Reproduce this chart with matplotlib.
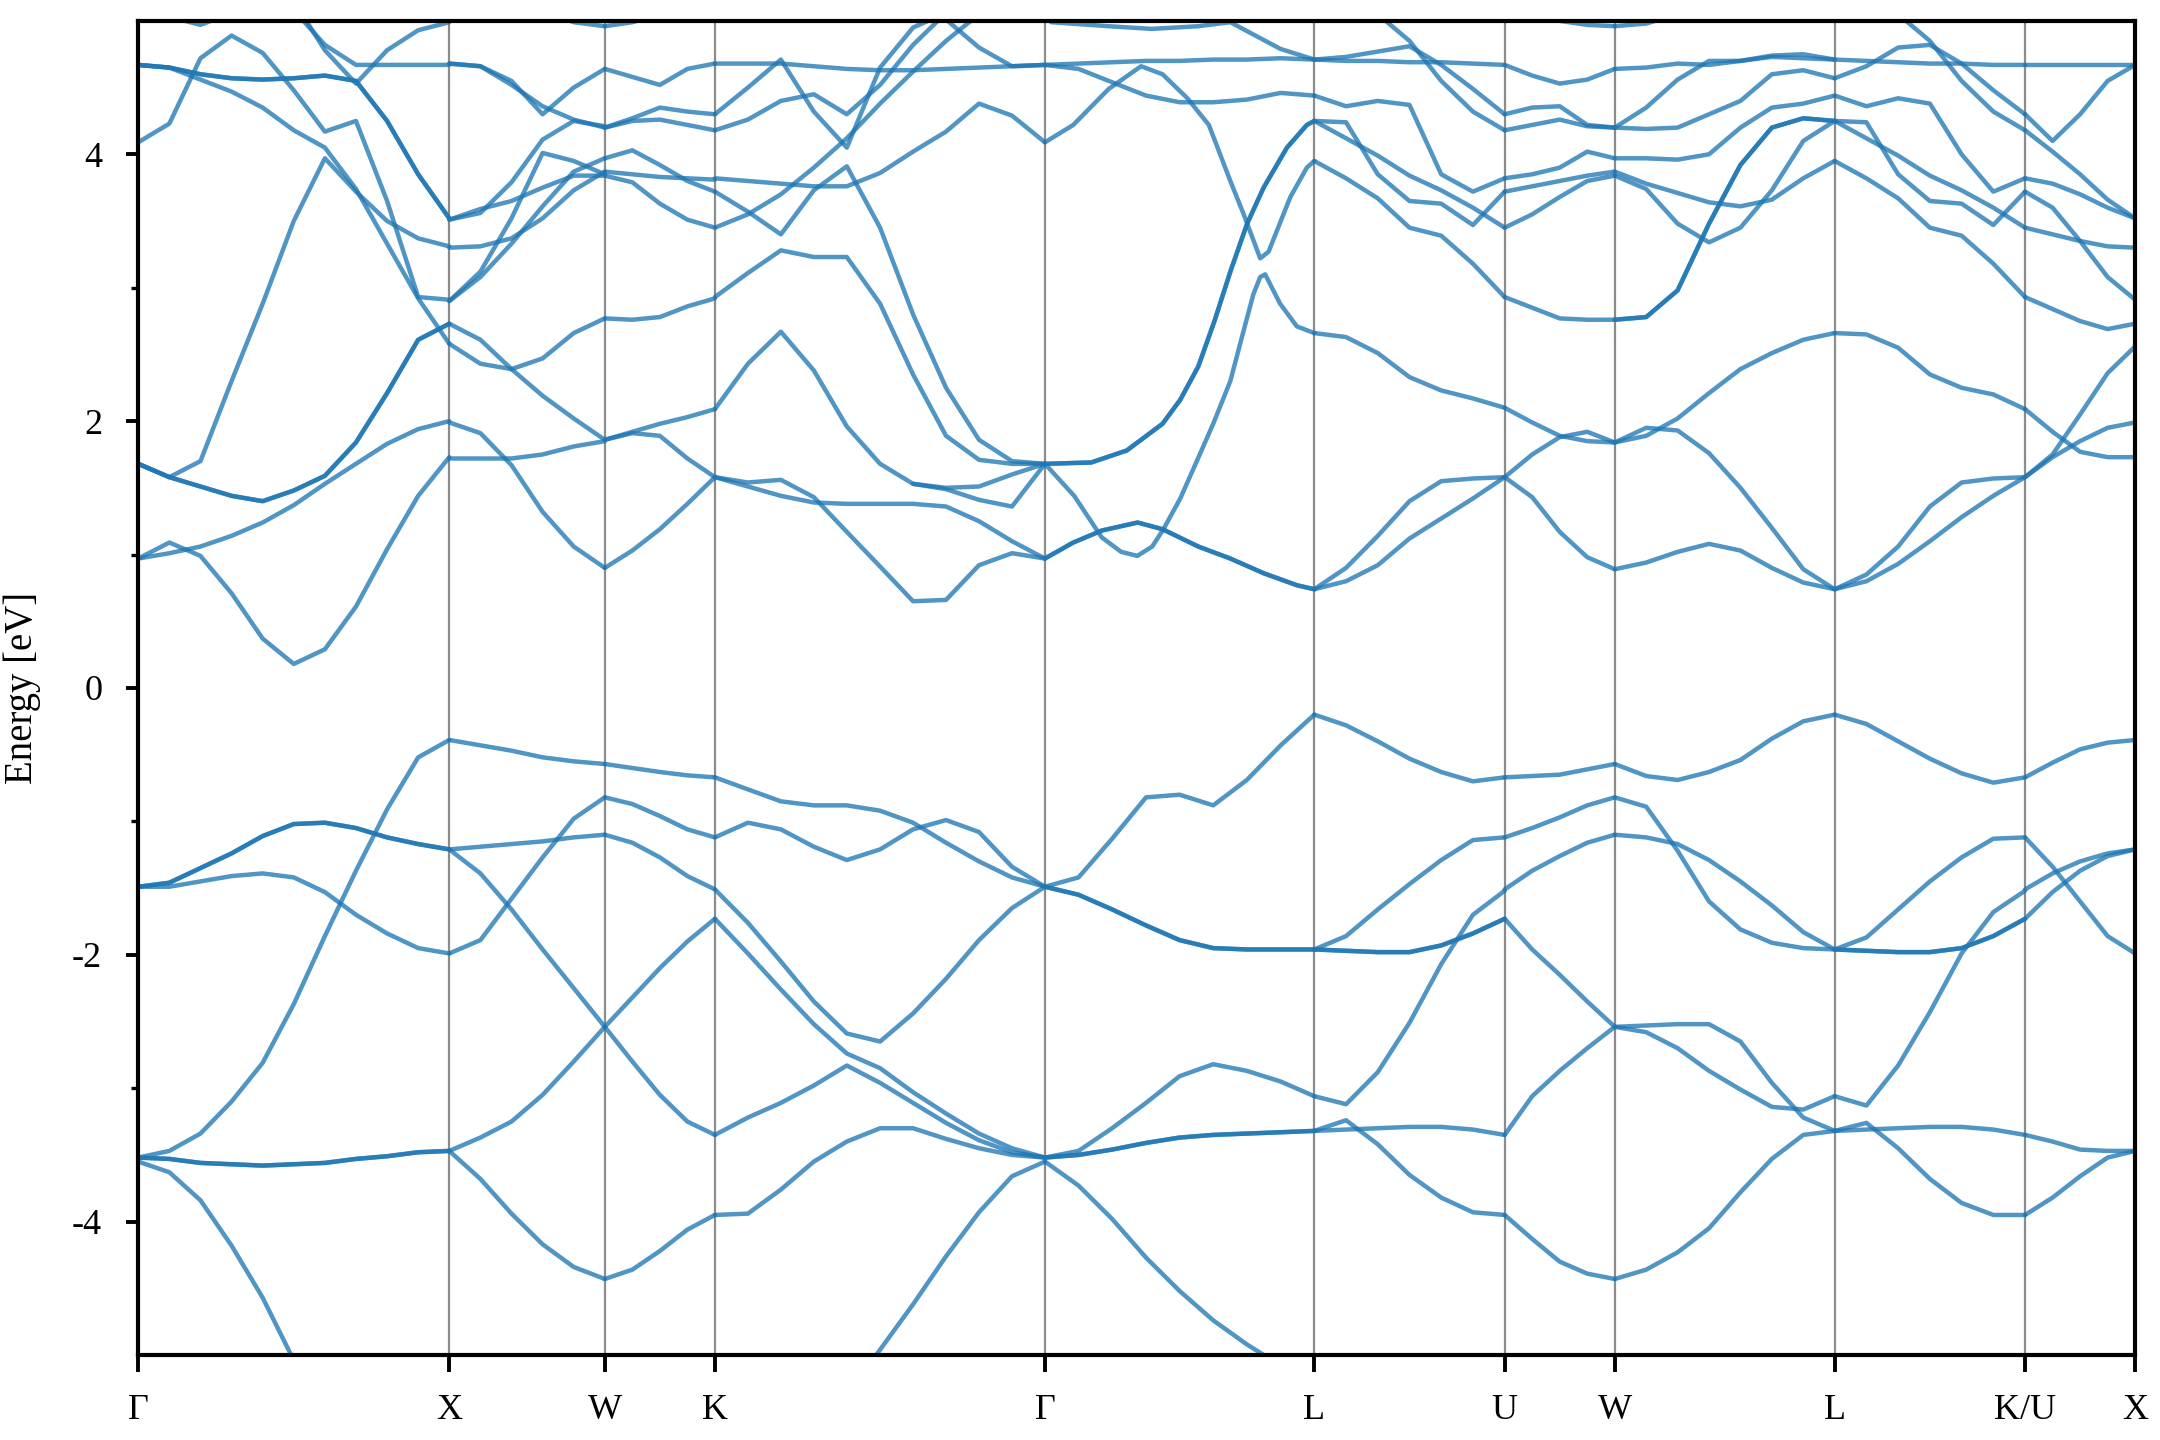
import numpy as np
import matplotlib
matplotlib.use("Agg")
import matplotlib.pyplot as plt

nan = np.nan

# fcc high-symmetry path, distances in units of 2*pi/a
labels = ["Γ", "X", "W", "K", "Γ", "L", "U", "W", "L", "K/U", "X"]
ticks = [0.0, 1.0, 1.5, 1.854, 2.915, 3.781, 4.393, 4.747, 5.454, 6.066, 6.420]

# ---- Γ - X ----
k_gx = [0.0, 0.1, 0.2, 0.3, 0.4, 0.5, 0.6, 0.7, 0.8, 0.9, 1.0]
gx_bands = [
    [-1.49, -1.49, -1.45, -1.41, -1.39, -1.42, -1.53, -1.70, -1.84, -1.95, -1.99],
    [-3.52, -3.47, -3.34, -3.10, -2.81, -2.37, -1.86, -1.37, -0.91, -0.52, -0.39],
    [-3.55, -3.63, -3.84, -4.18, -4.57, -5.04, -5.50, nan, nan, nan, nan],
    [0.97, 1.09, 0.99, 0.71, 0.37, 0.18, 0.29, 0.61, 1.04, 1.44, 1.73],
    [0.97, 1.01, 1.06, 1.14, 1.24, 1.37, 1.53, 1.68, 1.83, 1.94, 2.00],
    [1.68, 1.58, 1.70, 2.30, 2.88, 3.50, 3.97, 3.72, 3.50, 3.37, 3.31],
    [4.67, 4.65, 4.56, 4.47, 4.35, 4.18, 4.05, 3.74, 3.33, 2.92, 2.58],
    [4.09, 4.23, 4.72, 4.89, 4.76, 4.48, 4.17, 4.25, 3.65, 2.93, 2.91],
    [nan, nan, nan, nan, nan, 5.08, 4.82, 4.67, 4.67, 4.67, 4.67],
    [nan, nan, nan, nan, nan, 5.15, 4.78, 4.53, 4.78, 4.93, 4.99],
    [nan, 5.03, 4.97, 5.06, nan, nan, nan, nan, nan, nan, nan],
]
gx_double = [
    [-1.49, -1.46, -1.35, -1.24, -1.11, -1.02, -1.01, -1.05, -1.12, -1.17, -1.21],
    [-3.52, -3.53, -3.56, -3.57, -3.58, -3.57, -3.56, -3.53, -3.51, -3.48, -3.47],
    [1.68, 1.58, 1.51, 1.44, 1.40, 1.48, 1.59, 1.84, 2.21, 2.61, 2.73],
    [4.67, 4.65, 4.60, 4.57, 4.56, 4.57, 4.59, 4.55, 4.25, 3.85, 3.52],
]

# ---- X - W ----
k_xw = [1.0, 1.1, 1.2, 1.3, 1.4, 1.5]
xw_bands = [
    [-0.39, -0.43, -0.47, -0.52, -0.55, -0.57],
    [-1.21, -1.19, -1.17, -1.15, -1.12, -1.10],
    [-1.99, -1.89, -1.58, -1.27, -0.98, -0.82],
    [-1.21, -1.39, -1.66, -1.96, -2.25, -2.54],
    [-3.47, -3.37, -3.25, -3.05, -2.80, -2.54],
    [-3.47, -3.68, -3.94, -4.17, -4.34, -4.43],
    [4.68, 4.66, 4.55, 4.30, 4.50, 4.64],
    [4.68, 4.66, 4.52, 4.36, 4.26, 4.20],
    [3.51, 3.56, 3.79, 4.11, 4.25, 4.21],
    [3.51, 3.59, 3.65, 3.75, 3.84, 3.84],
    [3.30, 3.31, 3.37, 3.52, 3.73, 3.87],
    [2.90, 3.12, 3.52, 4.01, 3.95, 3.85],
    [2.90, 3.08, 3.33, 3.61, 3.87, 3.97],
    [2.73, 2.61, 2.39, 2.19, 2.02, 1.86],
    [2.58, 2.43, 2.39, 2.47, 2.66, 2.77],
    [1.99, 1.91, 1.67, 1.32, 1.06, 0.90],
    [1.72, 1.72, 1.72, 1.75, 1.81, 1.85],
    [nan, nan, nan, 5.08, 4.99, 4.96],
]

# ---- W - K ----
k_wk = [1.5, 1.5885, 1.677, 1.7655, 1.854]
wk_bands = [
    [-0.57, -0.60, -0.63, -0.655, -0.67],
    [-0.82, -0.87, -0.96, -1.06, -1.12],
    [-1.10, -1.16, -1.27, -1.41, -1.51],
    [-2.54, -2.32, -2.10, -1.90, -1.73],
    [-2.54, -2.80, -3.05, -3.25, -3.35],
    [-4.43, -4.36, -4.22, -4.06, -3.95],
    [4.64, 4.58, 4.52, 4.64, 4.68],
    [4.20, 4.27, 4.35, 4.32, 4.30],
    [4.20, 4.25, 4.26, 4.22, 4.18],
    [3.97, 4.03, 3.92, 3.80, 3.72],
    [3.87, 3.85, 3.83, 3.82, 3.81],
    [3.84, 3.79, 3.63, 3.51, 3.45],
    [2.77, 2.76, 2.78, 2.86, 2.92],
    [1.86, 1.91, 1.89, 1.72, 1.58],
    [1.86, 1.92, 1.98, 2.03, 2.09],
    [0.90, 1.03, 1.19, 1.38, 1.58],
    [4.96, 4.99, 5.05, nan, nan],
]

# ---- K - Γ ----
k_kg = [1.854, 1.960, 2.066, 2.172, 2.278, 2.385, 2.491, 2.597, 2.703, 2.809, 2.915]
kg_bands = [
    [-0.67, -0.76, -0.85, -0.88, -0.88, -0.92, -1.01, -1.16, -1.30, -1.42, -1.49],
    [-1.12, -1.01, -1.06, -1.19, -1.29, -1.21, -1.06, -0.99, -1.08, -1.34, -1.49],
    [-1.51, -1.76, -2.05, -2.35, -2.59, -2.65, -2.44, -2.18, -1.89, -1.65, -1.49],
    [-1.73, -1.99, -2.26, -2.52, -2.74, -2.85, -3.03, -3.19, -3.34, -3.45, -3.52],
    [-3.35, -3.22, -3.11, -2.98, -2.83, -2.96, -3.11, -3.26, -3.39, -3.48, -3.52],
    [-3.95, -3.94, -3.76, -3.55, -3.40, -3.30, -3.30, -3.38, -3.45, -3.50, -3.52],
    [nan, nan, nan, nan, -5.30, -4.96, -4.62, -4.26, -3.93, -3.66, -3.55],
    [1.58, 1.54, 1.56, 1.43, 1.17, 0.91, 0.65, 0.66, 0.92, 1.01, 0.97],
    [1.58, 1.51, 1.44, 1.39, 1.38, 1.38, 1.38, 1.36, 1.25, 1.10, 0.97],
    [2.09, 2.43, 2.67, 2.38, 1.96, 1.68, 1.53, 1.50, 1.51, 1.60, 1.68],
    [nan, nan, nan, nan, nan, nan, 1.53, 1.49, 1.41, 1.36, 1.68],
    [2.93, 3.11, 3.28, 3.23, 3.23, 2.88, 2.35, 1.89, 1.71, 1.68, 1.68],
    [3.72, 3.57, 3.40, 3.73, 3.91, 3.45, 2.80, 2.25, 1.86, 1.70, 1.68],
    [3.82, 3.80, 3.78, 3.76, 3.76, 3.86, 4.02, 4.17, 4.38, 4.29, 4.09],
    [3.45, 3.55, 3.70, 3.90, 4.12, 4.38, 4.62, 4.85, 5.05, nan, nan],
    [4.18, 4.26, 4.40, 4.45, 4.30, 4.52, 4.82, 5.06, nan, nan, nan],
    [4.30, 4.50, 4.71, 4.32, 4.05, 4.65, 4.95, 5.06, nan, nan, nan],
    [nan, nan, nan, nan, nan, nan, 5.10, 5.01, 4.80, 4.66, 4.67],
    [4.68, 4.68, 4.68, 4.66, 4.64, 4.63, 4.63, 4.64, 4.65, 4.66, 4.67],
]

# ---- Γ - L ----
k_gl = [2.915, 3.023, 3.131, 3.240, 3.348, 3.456, 3.564, 3.673, 3.781]
gl_bands = [
    [-1.49, -1.42, -1.13, -0.82, -0.80, -0.88, -0.69, -0.43, -0.20],
    [-3.52, -3.47, -3.30, -3.11, -2.91, -2.82, -2.87, -2.95, -3.06],
    [-3.55, -3.73, -3.98, -4.27, -4.52, -4.74, -4.92, -5.08, nan],
    [4.67, 4.64, 4.54, 4.44, 4.39, 4.39, 4.41, 4.46, 4.44],
    [4.67, 4.68, 4.69, 4.70, 4.70, 4.71, 4.71, 4.72, 4.71],
]
gl_double = [
    [-1.49, -1.55, -1.66, -1.78, -1.89, -1.95, -1.96, -1.96, -1.96],
    [-3.52, -3.50, -3.46, -3.41, -3.37, -3.35, -3.34, -3.33, -3.32],
]
# Γ - L conduction bands with features between grid points
gl_k1 = [2.915, 3.006, 3.098, 3.213, 3.293, 3.408, 3.511, 3.618, 3.725, 3.781]
gl_e1 = [0.97, 1.09, 1.18, 1.24, 1.19, 1.06, 0.97, 0.86, 0.77, 0.74]
gl_k2 = [2.915, 3.009, 3.097, 3.16, 3.212, 3.26, 3.296, 3.35, 3.407, 3.456,
         3.511, 3.554, 3.585, 3.607, 3.623, 3.671, 3.725, 3.781]
gl_e2 = [1.68, 1.44, 1.13, 1.02, 0.99, 1.06, 1.19, 1.42, 1.72, 1.98,
         2.30, 2.68, 2.95, 3.08, 3.10, 2.88, 2.71, 2.66]
gl_k3 = [2.915, 3.064, 3.178, 3.293, 3.35, 3.408, 3.46, 3.511, 3.565, 3.618, 3.693, 3.757, 3.781]
gl_e3 = [1.68, 1.69, 1.78, 1.98, 2.16, 2.41, 2.75, 3.12, 3.48, 3.75, 4.05, 4.22, 4.25]
gl_k4 = [2.915, 3.006, 3.120, 3.224, 3.293, 3.373, 3.442, 3.511, 3.554, 3.607, 3.634, 3.704, 3.757, 3.781]
gl_e4 = [4.09, 4.22, 4.49, 4.66, 4.60, 4.42, 4.22, 3.80, 3.55, 3.22, 3.27, 3.68, 3.90, 3.95]
gl_k5 = [2.935, 3.120, 3.258, 3.408, 3.511, 3.672, 3.781]
gl_e5 = [4.99, 4.96, 4.94, 4.96, 4.99, 4.79, 4.71]

# ---- L - U ----
k_lu = [3.781, 3.883, 3.985, 4.087, 4.189, 4.291, 4.393]
lu_bands = [
    [-0.20, -0.28, -0.40, -0.53, -0.63, -0.70, -0.67],
    [-1.96, -1.86, -1.66, -1.47, -1.29, -1.14, -1.12],
    [-3.06, -3.12, -2.88, -2.51, -2.07, -1.70, -1.52],
    [-3.32, -3.24, -3.42, -3.65, -3.82, -3.93, -3.95],
    [-3.32, -3.31, -3.30, -3.29, -3.29, -3.31, -3.35],
    [0.74, 0.90, 1.14, 1.40, 1.55, 1.57, 1.58],
    [0.74, 0.80, 0.92, 1.12, 1.27, 1.42, 1.58],
    [2.66, 2.63, 2.51, 2.33, 2.23, 2.17, 2.10],
    [3.95, 3.82, 3.67, 3.45, 3.39, 3.18, 2.93],
    [4.44, 4.36, 4.40, 4.37, 3.85, 3.72, 3.82],
    [4.25, 4.12, 3.99, 3.84, 3.73, 3.60, 3.45],
    [4.25, 4.24, 3.85, 3.65, 3.63, 3.47, 3.72],
    [4.71, 4.73, 4.77, 4.81, 4.67, 4.49, 4.30],
    [nan, nan, 5.05, 4.85, 4.55, 4.32, 4.18],
    [4.71, 4.70, 4.70, 4.69, 4.69, 4.68, 4.67],
]
lu_double = [
    [-1.96, -1.97, -1.98, -1.98, -1.93, -1.84, -1.73],
]

# ---- U - W ----
k_uw = [4.393, 4.4815, 4.570, 4.6585, 4.747]
uw_bands = [
    [-0.67, -0.66, -0.65, -0.61, -0.57],
    [-1.12, -1.05, -0.97, -0.88, -0.82],
    [-1.51, -1.37, -1.26, -1.16, -1.10],
    [-1.73, -1.96, -2.15, -2.35, -2.54],
    [-3.35, -3.06, -2.87, -2.70, -2.54],
    [-3.95, -4.13, -4.30, -4.39, -4.43],
    [1.58, 1.43, 1.17, 0.98, 0.89],
    [1.58, 1.75, 1.88, 1.92, 1.84],
    [2.10, 1.99, 1.89, 1.85, 1.84],
    [2.93, 2.85, 2.77, 2.76, 2.76],
    [3.45, 3.55, 3.68, 3.80, 3.84],
    [3.72, 3.76, 3.80, 3.84, 3.87],
    [3.82, 3.85, 3.90, 4.02, 3.97],
    [4.18, 4.22, 4.26, 4.21, 4.20],
    [4.30, 4.35, 4.36, 4.22, 4.20],
    [4.67, 4.59, 4.53, 4.56, 4.64],
    [nan, 5.06, 5.00, 4.97, 4.96],
]

# ---- W - L ----
k_wl = [4.747, 4.848, 4.949, 5.050, 5.151, 5.252, 5.353, 5.454]
wl_bands = [
    [-0.57, -0.66, -0.69, -0.63, -0.54, -0.38, -0.25, -0.20],
    [-0.82, -0.89, -1.22, -1.60, -1.81, -1.91, -1.95, -1.96],
    [-1.10, -1.12, -1.17, -1.29, -1.45, -1.63, -1.83, -1.96],
    [-2.54, -2.53, -2.52, -2.52, -2.65, -2.96, -3.22, -3.32],
    [-2.54, -2.58, -2.70, -2.87, -3.01, -3.14, -3.16, -3.06],
    [-4.43, -4.36, -4.23, -4.05, -3.78, -3.53, -3.35, -3.32],
    [0.89, 0.94, 1.02, 1.08, 1.03, 0.90, 0.79, 0.74],
    [1.84, 1.95, 1.93, 1.76, 1.50, 1.20, 0.89, 0.74],
    [1.84, 1.89, 2.02, 2.21, 2.39, 2.51, 2.61, 2.66],
    [3.84, 3.74, 3.48, 3.34, 3.45, 3.73, 4.10, 4.25],
    [3.87, 3.78, 3.71, 3.64, 3.61, 3.66, 3.82, 3.95],
    [3.97, 3.97, 3.96, 4.00, 4.20, 4.35, 4.38, 4.44],
    [4.20, 4.19, 4.20, 4.30, 4.40, 4.60, 4.63, 4.57],
    [4.20, 4.35, 4.56, 4.70, 4.70, 4.74, 4.75, 4.71],
    [4.64, 4.65, 4.68, 4.67, 4.70, 4.73, 4.72, 4.71],
    [4.96, 4.98, 5.05, nan, nan, nan, nan, nan],
]
wl_double = [
    [2.76, 2.78, 2.98, 3.48, 3.92, 4.20, 4.27, 4.25],
]

# ---- L - K/U ----
k_lk = [5.454, 5.556, 5.658, 5.760, 5.862, 5.964, 6.066]
lk_bands = [
    [-0.20, -0.27, -0.40, -0.53, -0.64, -0.71, -0.67],
    [-1.96, -1.87, -1.66, -1.45, -1.27, -1.13, -1.12],
    [-3.06, -3.13, -2.83, -2.43, -1.99, -1.68, -1.52],
    [-3.32, -3.26, -3.45, -3.68, -3.86, -3.95, -3.95],
    [-3.32, -3.31, -3.30, -3.29, -3.29, -3.31, -3.35],
    [0.74, 0.85, 1.06, 1.36, 1.54, 1.57, 1.58],
    [0.74, 0.80, 0.93, 1.10, 1.28, 1.44, 1.58],
    [2.66, 2.65, 2.55, 2.35, 2.25, 2.20, 2.09],
    [3.95, 3.82, 3.67, 3.45, 3.39, 3.18, 2.93],
    [4.44, 4.36, 4.42, 4.38, 4.00, 3.72, 3.82],
    [4.25, 4.12, 3.99, 3.84, 3.73, 3.60, 3.45],
    [4.25, 4.24, 3.85, 3.65, 3.63, 3.47, 3.72],
    [4.57, 4.66, 4.80, 4.82, 4.68, 4.48, 4.30],
    [nan, nan, 5.05, 4.85, 4.55, 4.32, 4.18],
    [4.71, 4.70, 4.69, 4.68, 4.68, 4.67, 4.67],
]
lk_double = [
    [-1.96, -1.97, -1.98, -1.98, -1.95, -1.86, -1.73],
]

# ---- K/U - X ----
k_kx = [6.066, 6.1545, 6.243, 6.3315, 6.420]
kx_bands = [
    [-0.67, -0.56, -0.46, -0.41, -0.39],
    [-1.12, -1.34, -1.60, -1.86, -1.99],
    [-1.51, -1.39, -1.30, -1.24, -1.21],
    [-1.73, -1.53, -1.37, -1.26, -1.21],
    [-3.35, -3.40, -3.46, -3.47, -3.47],
    [-3.95, -3.82, -3.66, -3.52, -3.47],
    [1.58, 1.73, 1.85, 1.95, 1.99],
    [1.58, 1.75, 2.05, 2.36, 2.56],
    [2.09, 1.92, 1.77, 1.73, 1.73],
    [2.93, 2.84, 2.75, 2.69, 2.73],
    [3.45, 3.40, 3.35, 3.31, 3.30],
    [3.72, 3.60, 3.35, 3.08, 2.91],
    [3.82, 3.78, 3.70, 3.60, 3.52],
    [4.18, 4.02, 3.85, 3.66, 3.52],
    [4.30, 4.10, 4.30, 4.55, 4.67],
    [4.67, 4.67, 4.67, 4.67, 4.67],
]

segments = [
    (k_gx, gx_bands + gx_double * 2),
    (k_xw, xw_bands),
    (k_wk, wk_bands),
    (k_kg, kg_bands),
    (k_gl, gl_bands + gl_double * 2),
    (k_lu, lu_bands + lu_double * 2),
    (k_uw, uw_bands),
    (k_wl, wl_bands + wl_double * 2),
    (k_lk, lk_bands + lk_double * 2),
    (k_kx, kx_bands),
]
free_curves = [
    (gl_k1, gl_e1), (gl_k1, gl_e1),
    (gl_k2, gl_e2),
    (gl_k3, gl_e3), (gl_k3, gl_e3),
    (gl_k4, gl_e4),
    (gl_k5, gl_e5),
]

plt.rcParams["font.family"] = ["Liberation Serif", "DejaVu Serif"]
plt.rcParams["axes.unicode_minus"] = False

fig = plt.figure(figsize=(10.8, 7.2), dpi=200)
ax = fig.add_axes([0.064, 0.059, 0.9245, 0.9265])

band_color = "#1f77b4"
for k, bands in segments:
    for e in bands:
        ax.plot(k, np.array(e, dtype=float), color=band_color, lw=1.6, alpha=0.78,
                solid_capstyle="round", solid_joinstyle="round")
for k, e in free_curves:
    ax.plot(k, e, color=band_color, lw=1.6, alpha=0.78,
            solid_capstyle="round", solid_joinstyle="round")

for t in ticks[1:-1]:
    ax.axvline(t, color="gray", lw=0.8, alpha=0.9, zorder=0)

ax.set_xlim(ticks[0], ticks[-1])
ax.set_ylim(-5, 5)
ax.set_xticks(ticks)
ax.set_xticklabels(labels)
ax.set_yticks([-4, -2, 0, 2, 4])
ax.set_yticks([-3, -1, 1, 3], minor=True)
ax.set_ylabel("Energy [eV]", fontsize=14, labelpad=11)

ax.tick_params(axis="both", which="major", labelsize=13, width=1.4, direction="out")
ax.tick_params(axis="x", which="major", length=6, pad=8)
ax.tick_params(axis="y", which="major", length=4.5, pad=8.5)
ax.tick_params(axis="y", which="minor", length=2.5, width=1.2)
for s in ax.spines.values():
    s.set_linewidth(1.5)

fig.savefig("out.png", dpi=200)
